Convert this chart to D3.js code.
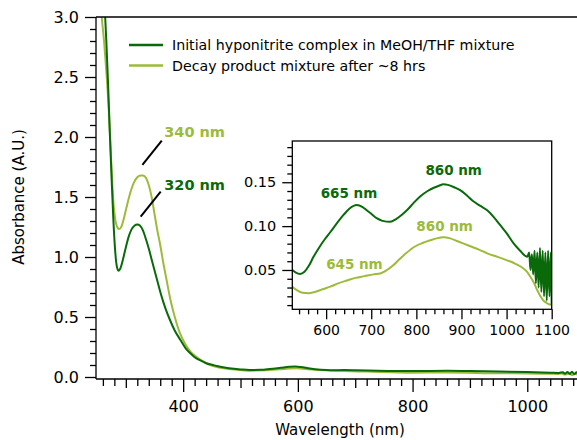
<!DOCTYPE html>
<html><head><meta charset="utf-8">
<script src="https://cdn.jsdelivr.net/npm/d3@7"></script>
<style>
body{margin:0;background:#fff;}
text{font-family:"DejaVu Sans",sans-serif;}
</style></head>
<body><svg id="c" width="577" height="440"></svg>
<script>
// ---- data ----
const seriesNames = ["Initial hyponitrite complex in MeOH/THF mixture", "Decay product mixture after ~8 hrs"];
const colors = ["#0a6a0a", "#9cbb3a"];
// main spectra [wavelength nm, absorbance]
const initialMain = [[250,3.6],[258,3.4],[263,3.1],[266,2.8],[269,2.45],[272,2.05],[275,1.68],[278,1.34],[281,1.08],[284,0.93],[287,0.886],[290,0.9],[295,0.98],[300,1.08],[305,1.17],[310,1.23],[315,1.26],[320,1.27],[325,1.26],[330,1.22],[335,1.15],[340,1.07],[345,0.98],[350,0.89],[355,0.8],[360,0.71],[365,0.63],[370,0.56],[377,0.475],[385,0.39],[395,0.31],[405,0.235],[412,0.2],[420,0.165],[429,0.14],[440,0.115],[452,0.1],[465,0.085],[480,0.073],[500,0.063],[516,0.058],[535,0.06],[551,0.067],[570,0.077],[585,0.085],[595,0.088],[605,0.084],[621,0.07],[640,0.06],[656,0.056],[680,0.058],[700,0.057],[740,0.053],[800,0.05],[860,0.052],[900,0.049],[950,0.045],[1000,0.041],[1040,0.036],[1055,0.034],[1062,0.04],[1066,0.028],[1070,0.042],[1074,0.026],[1078,0.044],[1082,0.024],[1086,0.04],[1090,0.022],[1094,0.038],[1100,0.02]];
const decayMain = [[250,3.5],[255,3.2],[258,3.0],[262,2.8],[266,2.55],[270,2.25],[274,1.85],[278,1.48],[282,1.3],[285,1.25],[288,1.233],[292,1.25],[297,1.33],[302,1.43],[308,1.54],[314,1.62],[320,1.665],[326,1.68],[330,1.68],[335,1.66],[340,1.6],[345,1.5],[350,1.36],[355,1.22],[360,1.1],[365,0.96],[371,0.81],[378,0.64],[386,0.49],[394,0.37],[403,0.28],[413,0.21],[424,0.165],[435,0.13],[447,0.1],[460,0.082],[480,0.067],[500,0.058],[520,0.053],[545,0.057],[569,0.064],[585,0.07],[598,0.072],[615,0.066],[640,0.058],[680,0.05],[720,0.045],[800,0.036],[860,0.037],[950,0.031],[1000,0.03],[1040,0.027],[1052,0.025],[1060,0.03],[1066,0.02],[1072,0.03],[1078,0.016],[1084,0.028],[1090,0.014],[1100,0.02]];
// inset spectra
const initialInset = [[525,0.05],[533,0.047],[542,0.0455],[552,0.048],[562,0.055],[572,0.065],[585,0.076],[597,0.085],[609,0.093],[622,0.102],[639,0.113],[652,0.12],[668,0.124],[680,0.122],[690,0.118],[700,0.114],[712,0.109],[725,0.106],[742,0.105],[755,0.108],[768,0.113],[779,0.118],[795,0.127],[809,0.134],[825,0.14],[840,0.144],[850,0.146],[860,0.1476],[870,0.147],[885,0.144],[897,0.141],[912,0.135],[927,0.128],[942,0.123],[957,0.118],[972,0.11],[986,0.101],[1000,0.092],[1016,0.08],[1030,0.072],[1046,0.065],[1050,0.07],[1053,0.05],[1056,0.068],[1059,0.045],[1062,0.072],[1065,0.035],[1068,0.07],[1071,0.03],[1074,0.075],[1077,0.025],[1080,0.072],[1083,0.02],[1086,0.07],[1089,0.015],[1092,0.072],[1095,0.02],[1098,0.07],[1100,0.01]];
const decayInset = [[525,0.031],[535,0.027],[548,0.024],[561,0.0235],[575,0.025],[592,0.028],[609,0.031],[628,0.035],[646,0.038],[665,0.041],[685,0.043],[705,0.045],[720,0.046],[735,0.05],[748,0.055],[758,0.06],[777,0.069],[796,0.0765],[815,0.081],[832,0.084],[845,0.086],[860,0.0872],[875,0.086],[890,0.083],[905,0.08],[920,0.077],[940,0.073],[957,0.069],[980,0.065],[1001,0.061],[1016,0.058],[1031,0.054],[1045,0.048],[1053,0.042],[1060,0.036],[1067,0.028],[1075,0.02],[1082,0.015],[1090,0.012],[1100,0.01]];
const mainXTicks = [400,600,800,1000];
const mainYTicks = [0,0.5,1.0,1.5,2.0,2.5,3.0];
const insetXTicks = [600,700,800,900,1000,1100];
const insetYTicks = [0.05,0.10,0.15];
const mainAnnotations = [{text:"340 nm", s:1, x:367, y:2.0, lx:[362.7,1.97,328.9,1.767]},{text:"320 nm", s:0, x:367, y:1.558, lx:[360.8,1.544,325.9,1.336]}];
const insetAnnotations = [{text:"665 nm", s:0, x:588, y:0.132},{text:"860 nm", s:0, x:820, y:0.158},{text:"860 nm", s:1, x:800, y:0.095},{text:"645 nm", s:1, x:600, y:0.051}];

// ---- layout ----
const svg = d3.select("#c");
const x = d3.scaleLinear().domain([248,1100]).range([96, 96+852*0.5735]);
const y = d3.scaleLinear().domain([0,3]).range([377,17]);
const axisY0 = 379;

svg.append("clipPath").attr("id","mclip").append("rect").attr("x",96).attr("y",17).attr("width",500).attr("height",362);

const line = (xs, ys) => d3.line().x(d=>xs(d[0])).y(d=>ys(d[1])).curve(d3.curveMonotoneX);

const mg = svg.append("g").attr("clip-path","url(#mclip)");
[decayMain, initialMain].forEach((s,k)=>{
  const i = k===0?1:0;
  mg.append("path").datum(s).attr("d", line(x,y)).attr("fill","none").attr("stroke",colors[i]).attr("stroke-width",2).attr("stroke-linejoin","round");
});

// axes main
function styleAxis(g){ g.select(".domain").remove(); g.selectAll("line").attr("stroke","#000").attr("stroke-width",1.3); g.selectAll("text").attr("fill","#000"); }
const minorX = d3.range(260,1100,20).filter(v=>v%100!==0);
const medX = [300,500,700,900,1100];
svg.append("g").attr("transform",`translate(0,${axisY0})`).call(d3.axisBottom(x).tickValues(minorX).tickSize(7).tickFormat("")).call(styleAxis);
svg.append("g").attr("transform",`translate(0,${axisY0})`).call(d3.axisBottom(x).tickValues(medX).tickSize(9).tickFormat("")).call(styleAxis);
svg.append("g").attr("transform",`translate(0,${axisY0})`).call(d3.axisBottom(x).tickValues(mainXTicks).tickSize(13).tickPadding(9).tickFormat(d3.format("d"))).call(styleAxis)
  .selectAll("text").attr("font-size",16).attr("font-family","DejaVu Sans");
const minorY = d3.range(0,31).map(v=>v/10).filter(v=>Math.abs(v*2-Math.round(v*2))>1e-6);
svg.append("g").attr("transform","translate(96,0)").call(d3.axisLeft(y).tickValues(minorY).tickSize(6).tickFormat("")).call(styleAxis);
svg.append("g").attr("transform","translate(96,0)").call(d3.axisLeft(y).tickValues(mainYTicks).tickSize(11).tickPadding(6).tickFormat(d3.format(".1f"))).call(styleAxis)
  .selectAll("text").attr("font-size",16).attr("font-family","DejaVu Sans");
// frame lines
svg.append("line").attr("x1",96).attr("x2",577).attr("y1",17).attr("y2",17).attr("stroke","#000").attr("stroke-width",1.3);
svg.append("line").attr("x1",96).attr("x2",96).attr("y1",17).attr("y2",axisY0).attr("stroke","#000").attr("stroke-width",1.3);
svg.append("line").attr("x1",96).attr("x2",577).attr("y1",axisY0).attr("y2",axisY0).attr("stroke","#000").attr("stroke-width",1.3);

// axis titles
svg.append("text").attr("x",340).attr("y",435).attr("text-anchor","middle").attr("font-size",15).text("Wavelength (nm)");
svg.append("text").attr("transform","translate(24,197) rotate(-90)").attr("text-anchor","middle").attr("font-size",15).text("Absorbance (A.U.)");

// legend
seriesNames.forEach((n,i)=>{
  const ly = 45 + i*20.5;
  svg.append("line").attr("x1",129).attr("x2",163).attr("y1",ly).attr("y2",ly).attr("stroke",colors[i]).attr("stroke-width",2.5);
  svg.append("text").attr("x",172).attr("y",ly+5).attr("font-size",14.2).text(n);
});

// main annotations
mainAnnotations.forEach(a=>{
  svg.append("text").attr("x",x(a.x)).attr("y",y(a.y)).attr("font-size",14.5).attr("font-weight","bold").attr("fill",colors[a.s]).text(a.text);
  svg.append("line").attr("x1",x(a.lx[0])).attr("y1",y(a.lx[1])).attr("x2",x(a.lx[2])).attr("y2",y(a.lx[3])).attr("stroke","#000").attr("stroke-width",2);
});

// inset
const ix = d3.scaleLinear().domain([525,1100]).range([292.3,551.7]);
const iy = d3.scaleLinear().domain([0.0052,0.197]).range([309.3,141]);
svg.append("rect").attr("x",292.3).attr("y",141).attr("width",259.4).attr("height",168.3).attr("fill","#fff");
svg.append("clipPath").attr("id","iclip").append("rect").attr("x",292.3).attr("y",141).attr("width",259.4).attr("height",168.3);
const ig = svg.append("g").attr("clip-path","url(#iclip)");
[decayInset, initialInset].forEach((s,k)=>{
  const i = k===0?1:0;
  ig.append("path").datum(s).attr("d", line(ix,iy)).attr("fill","none").attr("stroke",colors[i]).attr("stroke-width",2).attr("stroke-linejoin","round");
});
svg.append("rect").attr("x",292.3).attr("y",141).attr("width",259.4).attr("height",168.3).attr("fill","none").attr("stroke","#000").attr("stroke-width",1.3);
const iMinorX = d3.range(540,1100,20).filter(v=>v%100!==0);
svg.append("g").attr("transform","translate(0,309.3)").call(d3.axisBottom(ix).tickValues(iMinorX).tickSize(5).tickFormat("")).call(styleAxis);
svg.append("g").attr("transform","translate(0,309.3)").call(d3.axisBottom(ix).tickValues(insetXTicks).tickSize(10).tickPadding(6).tickFormat(d3.format("d"))).call(styleAxis)
  .selectAll("text").attr("font-size",14).attr("font-family","DejaVu Sans");
const iMinorY = d3.range(1,20).map(v=>v/100).filter(v=>Math.round(v*100)%5!==0);
svg.append("g").attr("transform","translate(292.3,0)").call(d3.axisLeft(iy).tickValues(iMinorY).tickSize(5).tickFormat("")).call(styleAxis);
svg.append("g").attr("transform","translate(292.3,0)").call(d3.axisLeft(iy).tickValues(insetYTicks).tickSize(10).tickPadding(6).tickFormat(d3.format(".2f"))).call(styleAxis)
  .selectAll("text").attr("font-size",14.5).attr("font-family","DejaVu Sans");
insetAnnotations.forEach(a=>{
  svg.append("text").attr("x",ix(a.x)).attr("y",iy(a.y)).attr("font-size",13.5).attr("font-weight","bold").attr("fill",colors[a.s]).text(a.text);
});
</script></body></html>
